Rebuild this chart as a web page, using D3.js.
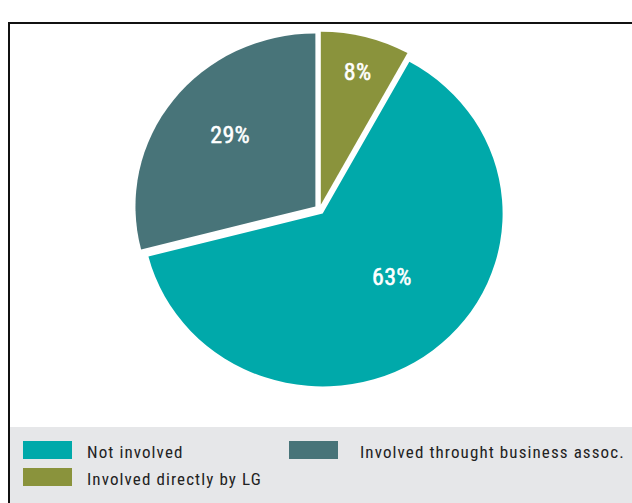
<!DOCTYPE html>
<html>
<head>
<meta charset="utf-8">
<script src="https://cdn.jsdelivr.net/npm/d3@7"></script>
<style>
  html, body { margin: 0; padding: 0; background: #ffffff; }
  svg { display: block; }
</style>
</head>
<body>
<svg id="chart" width="632" height="503"></svg>
<script>
// Involvement of local government — shares of respondents
const categories = ["Involved directly by LG", "Not involved", "Involved throught business assoc."];
const values = [8, 63, 29];
const valueLabels = ["8%", "63%", "29%"];
const colors = ["#8a933c", "#00a9aa", "#487479"];

// Legend order (left column top-down, then right column)
const legendOrder = ["Not involved", "Involved directly by LG", "Involved throught business assoc."];

const W = 632, H = 503;
const svg = d3.select("#chart");
const font = "'Liberation Sans Narrow', 'Arial Narrow', 'Roboto Condensed', sans-serif";

// frame
svg.append("rect").attr("x", 0).attr("y", 0).attr("width", W).attr("height", H).attr("fill", "#ffffff");
svg.append("rect").attr("x", 10).attr("y", 427).attr("width", W - 10).attr("height", H - 427).attr("fill", "#e6e7e9");
svg.append("path")
  .attr("d", `M9,${H} V23 H${W}`)
  .attr("fill", "none").attr("stroke", "#111").attr("stroke-width", 2);

// pie
const cx = 319.5, cy = 209.5, R = 173, explode = 5, sx = 1.04;
const pie = d3.pie().sort(null).value(d => d)(values);
const arc = d3.arc().innerRadius(0).outerRadius(R);

const g = svg.append("g").attr("transform", `translate(${cx},${cy}) scale(${sx},1)`);
g.selectAll("path.slice")
  .data(pie)
  .join("path")
  .attr("class", "slice")
  .attr("transform", d => {
    const a = (d.startAngle + d.endAngle) / 2;
    return `translate(${explode * Math.sin(a)},${-explode * Math.cos(a)})`;
  })
  .attr("d", arc)
  .attr("fill", (d, i) => colors[i]);

// value labels placed along each slice's bisector
const labelRadius = [137, 92, 109];
const labelTurn = [0.01, -0.15, 0.06];
svg.selectAll("text.val")
  .data(pie)
  .join("text")
  .attr("class", "val")
  .attr("x", (d, i) => {
    const a = (d.startAngle + d.endAngle) / 2;
    return cx + sx * (explode * Math.sin(a) + labelRadius[i] * Math.sin(a + labelTurn[i]));
  })
  .attr("y", (d, i) => {
    const a = (d.startAngle + d.endAngle) / 2;
    return cy - explode * Math.cos(a) - labelRadius[i] * Math.cos(a + labelTurn[i]);
  })
  .attr("text-anchor", "middle")
  .attr("dominant-baseline", "central")
  .attr("fill", "#ffffff")
  .attr("font-family", font)
  .attr("font-size", 24)
  .attr("letter-spacing", 0.3)
  .attr("stroke", "#ffffff")
  .attr("stroke-width", 0.5)
  .text((d, i) => valueLabels[i]);

// legend
const colorOf = d3.scaleOrdinal().domain(categories).range(colors);
const legendPos = [[23, 441], [23, 468], [289, 441]];
const lg = svg.append("g").selectAll("g")
  .data(legendOrder)
  .join("g")
  .attr("transform", (d, i) => `translate(${legendPos[i][0]},${legendPos[i][1]})`);
lg.append("rect")
  .attr("width", 49).attr("height", 18)
  .attr("fill", d => colorOf(d));
lg.append("text")
  .attr("x", (d, i) => i === 2 ? 71 : 64)
  .attr("y", 17)
  .attr("fill", "#222")
  .attr("font-family", font)
  .attr("font-size", 17)
  .attr("letter-spacing", 1.1)
  .text(d => d);
</script>
</body>
</html>
